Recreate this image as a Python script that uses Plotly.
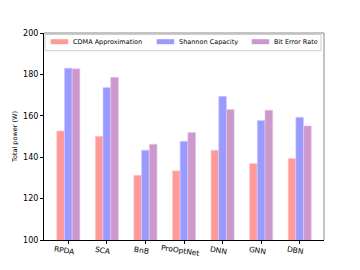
import plotly.graph_objects as go

categories = ["RPDA", "SCA", "BnB", "ProOptNet", "DNN", "GNN", "DBN"]
cdma = [152.7, 150.1, 131.3, 133.4, 143.4, 137.0, 139.4]
shannon = [183.0, 173.7, 143.4, 147.7, 169.4, 157.7, 159.3]
ber = [182.7, 178.6, 146.3, 151.9, 163.0, 162.7, 155.1]
series_names = ["CDMA Approximation", "Shannon Capacity", "Bit Error Rate"]
colors = ["#FF9A9A", "#9A9AFF", "#CC99CC"]
edge_colors = ["#FFD0D0", "#D0D0FF", "#E8C8E8"]

font = "DejaVu Sans"
L, R, T, B = 44, 36, 33, 30
W, H = 360, 270
pw, ph = W - L - R, H - T - B

def px(x):
    return (x - L) / pw

def py(y):
    return (H - B - y) / ph

x = list(range(len(categories)))
fig = go.Figure()
for name, vals, c, ec in zip(series_names, [cdma, shannon, ber], colors, edge_colors):
    fig.add_trace(go.Bar(x=x, y=vals, name=name, marker=dict(color=c, line=dict(color=ec, width=0.6))))

fig.update_layout(
    width=W, height=H,
    margin=dict(l=L, r=R, t=T, b=B),
    plot_bgcolor="white", paper_bgcolor="white",
    barmode="group", bargap=0.4, bargroupgap=0,
    font=dict(family=font, size=8, color="black"),
    showlegend=False,
)
fig.update_xaxes(range=[-0.63, 6.63], tickvals=x, ticktext=[""] * len(x),
                 showline=True, linecolor="black", linewidth=1, automargin=False,
                 ticks="outside", ticklen=3, tickcolor="black", showgrid=False)
fig.update_yaxes(range=[100, 200], tickvals=[100, 120, 140, 160, 180, 200],
                 showline=True, linecolor="black", linewidth=1, automargin=False,
                 ticks="outside", ticklen=3, tickcolor="black", showgrid=False,
                 title=dict(text="Total power (W)", font=dict(size=6.5, family=font), standoff=4),
                 tickfont=dict(size=8, family=font))

# rotated, centred category labels (matplotlib style)
for xi, lab in zip(x, categories):
    fig.add_annotation(xref="x", yref="paper", x=xi - 0.1, y=py(250), text=lab, textangle=9,
                       showarrow=False, xanchor="center", yanchor="middle",
                       font=dict(size=7.5, family=font, color="black"))

# top/right spines in gray
fig.add_shape(type="line", xref="paper", yref="paper", x0=0, x1=1, y0=1, y1=1, line=dict(color="#888888", width=1))
fig.add_shape(type="line", xref="paper", yref="paper", x0=1, x1=1, y0=0, y1=1, line=dict(color="#888888", width=1))

# legend box (matplotlib-style) built from series names/colors
fig.add_shape(type="rect", xref="paper", yref="paper", x0=px(45), x1=px(321), y0=py(50.7), y1=py(34.5),
              line=dict(color="#CCCCCC", width=1), fillcolor="rgba(255,255,255,0.8)")
patch_x = [50.7, 156.7, 251.7]
for name, c, x0 in zip(series_names, colors, patch_x):
    fig.add_shape(type="rect", xref="paper", yref="paper", x0=px(x0), x1=px(x0 + 17.5),
                  y0=py(44.2), y1=py(39.2), line=dict(width=0), fillcolor=c)
    fig.add_annotation(xref="paper", yref="paper", x=px(x0 + 20), y=py(41.8), text=name,
                       showarrow=False, xanchor="left", yanchor="middle",
                       font=dict(size=6.5, family=font, color="black"))

fig.write_html("out.html", config={"displayModeBar": False},
               post_script="document.body.style.margin='0';")
